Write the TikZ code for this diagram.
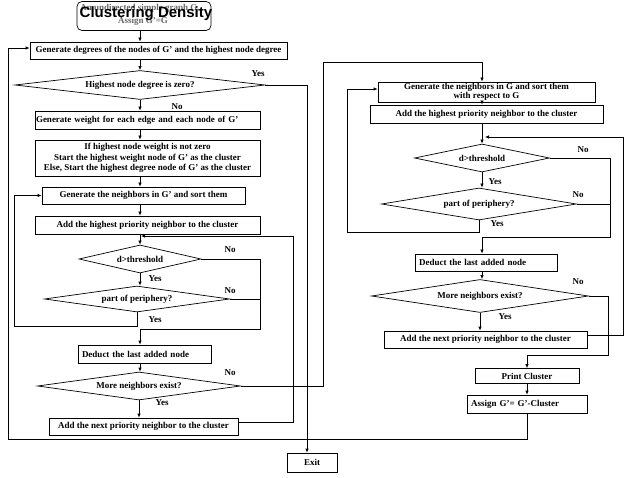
\documentclass[tikz,border=0pt]{standalone}
\usepackage{fontspec}
\setmainfont{Liberation Serif}
\newfontfamily\titlefont{Liberation Sans}
\usepackage{tikz}
\usetikzlibrary{arrows.meta}
\usetikzlibrary{shapes.geometric}
\newcommand{\boxfont}{\fontsize{9}{10.5}\selectfont\bfseries}
\tikzstyle{stepbox}=[draw, rectangle, line width=0.7pt, inner sep=1pt, align=center, font=\boxfont]
\tikzstyle{leftbox}=[stepbox, align=left]
\tikzstyle{decision}=[draw, diamond, aspect=6, inner sep=0pt, line width=0.7pt, font=\boxfont]
\tikzstyle{answer}=[inner sep=0pt, font=\boxfont]
\tikzstyle{arrow}=[draw=black, line width=0.7pt, ->, >={Latex[length=4pt, width=3.5pt]}]
\tikzstyle{wire}=[draw=black, line width=0.7pt]

\begin{document}
\begin{tikzpicture}[x=1pt, y=-1pt]
	\useasboundingbox (0,0) rectangle (634,478);
	\coordinate (lc) at (140,0);
	\coordinate (rc) at (482,0);
	\coordinate (joinL) at (141,236);
	\coordinate (joinR) at (485,137);
	\begin{scope}
		\node (start) at (144,16)[stepbox, rounded corners=5pt, minimum width=134pt, minimum height=29pt] {};
		\node (startA) at (140,8)[answer, text=black!60] {An undirected simple graph G,};
		\node (startB) at (143,21)[answer, text=black!60] {Assign G'=G};
		\node (title) at (146,14)[answer, font=\titlefont\fontsize{15}{16}\selectfont\bfseries] {Clustering Density};
		\node (gendeg) at (158.5,50.5)[stepbox, minimum width=257pt, minimum height=17pt] {Generate degrees of the nodes of G' and the highest node degree};
		\node (zero) at (140,85)[decision, minimum width=250pt, minimum height=29pt] {Highest node degree is zero?};
		\node (weight) at (147.5,120)[leftbox, text width=223pt, minimum height=18pt] {Generate weight for each edge and each node of G'};
		\node (init) at (147.5,158)[stepbox, minimum width=225pt, minimum height=36pt] {If highest node weight is not zero\\Start the highest weight node of G' as the cluster\\Else, Start the highest degree node of G' as the cluster};
		\node (genL) at (143.5,195.5)[stepbox, minimum width=203pt, minimum height=17pt] {Generate the neighbors in G' and sort them};
		\node (addL) at (147.5,225)[stepbox, minimum width=225pt, minimum height=18pt] {Add the highest priority neighbor to the cluster};
		\node (thrL) at (140,259)[decision, minimum width=122pt, minimum height=28pt] {d>threshold};
		\node (perL) at (137,299)[decision, minimum width=185pt, minimum height=26pt] {part of periphery?};
		\node (dedL) at (144.5,354)[leftbox, inner xsep=4pt, text width=125pt, minimum height=18pt] {Deduct the last added node};
		\node (moreL) at (139,386)[decision, minimum width=203pt, minimum height=28pt] {More neighbors exist?};
		\node (nextL) at (143.5,426.5)[stepbox, minimum width=189pt, minimum height=17pt] {Add the next priority neighbor to the cluster};
		\node (exit) at (312,462.5)[stepbox, minimum width=50pt, minimum height=19pt] {Exit};
		\node (genR) at (486.5,92)[stepbox, minimum width=217pt, minimum height=20pt, font=\fontsize{9}{9.5}\selectfont\bfseries] {Generate the neighbors in G and sort them\\with respect to G};
		\node (addR) at (486.5,114)[stepbox, minimum width=233pt, minimum height=18pt] {Add the highest priority neighbor to the cluster};
		\node (thrR) at (482,158)[decision, minimum width=135pt, minimum height=28pt] {d>threshold};
		\node (perR) at (479,204)[decision, minimum width=195pt, minimum height=32pt] {part of periphery?};
		\node (dedR) at (486,262.5)[leftbox, inner xsep=4pt, text width=134pt, minimum height=17pt] {Deduct the last added node};
		\node (moreR) at (480,296)[decision, minimum width=217pt, minimum height=33pt] {More neighbors exist?};
		\node (nextR) at (485.5,339.5)[stepbox, minimum width=203pt, minimum height=17pt] {Add the next priority neighbor to the cluster};
		\node (print) at (527,376)[stepbox, minimum width=104pt, minimum height=15pt] {Print Cluster};
		\node (assign) at (527,404)[leftbox, inner xsep=4pt, text width=112pt, minimum height=18pt] {Assign G'= G'-Cluster};
		\node (zeroY) at (258,74)[answer] {Yes};
		\node (zeroN) at (177,107)[answer] {No};
		\node (thrLN) at (230,250)[answer] {No};
		\node (thrLY) at (155,279)[answer] {Yes};
		\node (perLN) at (230,291)[answer] {No};
		\node (perLY) at (155,320)[answer] {Yes};
		\node (moreLN) at (230,373)[answer] {No};
		\node (moreLY) at (162,403)[answer] {Yes};
		\node (thrRN) at (583,150)[answer] {No};
		\node (thrRY) at (495,182)[answer] {Yes};
		\node (perRN) at (578,195)[answer] {No};
		\node (perRY) at (497,224)[answer] {Yes};
		\node (moreRN) at (578,282)[answer] {No};
		\node (moreRY) at (505,317)[answer] {Yes};
	\end{scope}
	\begin{scope}
		\path [arrow] (start.south -| lc) -- (gendeg.north -| lc);
		\path [arrow] (gendeg.south -| lc) -- (zero.north);
		\path [arrow] (zero.south) -- (weight.north -| lc);
		\path [arrow] (weight.south -| lc) -- (init.north -| lc);
		\path [arrow] (init.south -| lc) -- (genL.north -| lc);
		\path [arrow] (genL.south -| lc) -- (addL.north -| lc);
		\path [arrow] (addL.south -| lc) -- (thrL.north);
		\path [arrow] (thrL.south) -- (perL.north -| lc);
		\path [arrow] (perL.south) -- ++(0,14) -| ([xshift=-27pt]genL.west) -- (genL.west);
		\path [arrow] (thrL.east) -| (260,329) -| (dedL.north -| lc);
		\path [wire] (perL.east) -- ++(30.5,0);
		\path [arrow] (dedL.south -| lc) -- (moreL.north -| lc);
		\path [arrow] (moreL.south) -- (moreL.south |- nextL.north);
		\path [arrow] ([yshift=4pt]nextL.east) -| (293,236) -- (joinL);
		\path [arrow] (moreL.east) -| (323,62) -| (genR.north -| rc);
		\path [arrow] (zero.east) -| ([xshift=-5pt]exit.north);
		\path [arrow] (assign.south) -- ++(0,26) -| (8,48) -- ([yshift=2.5pt]gendeg.west);
		\path [arrow] (genR.south -| rc) -- (addR.north -| rc);
		\path [arrow] (addR.south -| rc) -- (thrR.north);
		\path [arrow] (thrR.south) -- (perR.north -| rc);
		\path [arrow] (perR.south) -- ++(0,12) -| ([xshift=-30pt, yshift=3pt]genR.west) -- ([yshift=3pt]genR.west);
		\path [arrow] (thrR.east) -| (610,237) -| (dedR.north -| rc);
		\path [wire] (perR.east) -- ++(33.5,0);
		\path [arrow] (dedR.south -| rc) -- (moreR.north -| rc);
		\path [arrow] (moreR.south) -- (moreR.south |- nextR.north);
		\path [arrow] ([yshift=4pt]nextR.east) -| (623,137) -- (joinR);
		\path [arrow] (moreR.east) -| (608,355) -| (print.north);
		\path [arrow] (print.south) -- (assign.north);
	\end{scope}
\end{tikzpicture}
\end{document}
